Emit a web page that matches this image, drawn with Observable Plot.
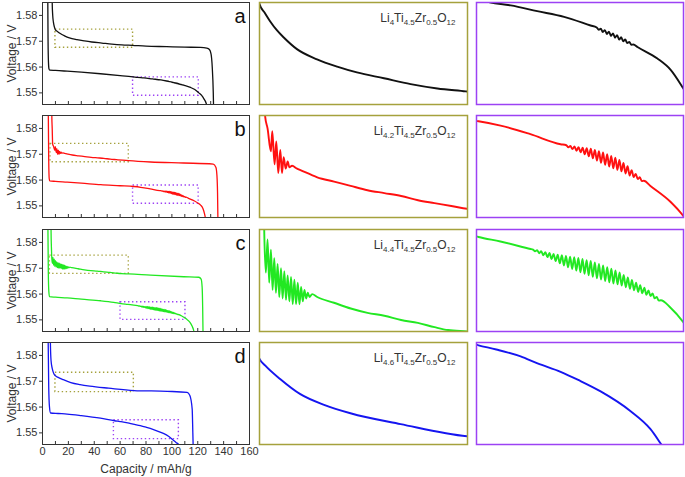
<!DOCTYPE html>
<html><head><meta charset="utf-8">
<script src="https://cdn.jsdelivr.net/npm/d3@7"></script>
<script src="https://cdn.jsdelivr.net/npm/@observablehq/plot@0.6"></script>
<style>
body{margin:0;background:#fff;}
#chart{position:relative;width:685px;height:477px;overflow:hidden;font-family:"Liberation Sans",Arial,sans-serif;}
#chart svg{position:absolute;overflow:visible;}
</style></head><body><div id="chart"></div>
<script>
// ---------- data: [capacity mAh/g, voltage V] ----------
const aCharge = [[7.2,1.600],[7.5,1.585],[7.9,1.580],[8.4,1.5775],[9.2,1.5755],[10,1.5744],[11.5,1.5738],[13.1,1.5732],[15,1.5726],[17,1.5721],[20.8,1.5713],[26.6,1.5706],[32.4,1.5701],[38.1,1.5697],[45.9,1.5693],[53.6,1.5689],[61.3,1.5686],[69.5,1.5684],[80,1.5681],[96,1.5679],[110,1.5677],[122,1.5676],[127,1.5673],[129,1.5668],[130.3,1.5650],[131.2,1.5600],[132,1.5500],[132.4,1.5400]];
const aDischarge = [[4.0,1.600],[4.1,1.585],[4.3,1.570],[4.6,1.5620],[5.0,1.5593],[5.6,1.5588],[10,1.5587],[19,1.5584],[30,1.5580],[44.8,1.5574],[60,1.5567],[70,1.5562],[73.5,1.5560],[78.4,1.5558],[84.9,1.5554],[91.5,1.5550],[98,1.5544],[99.5,1.55426],[100,1.55410],[100.5,1.55418],[101,1.55395],[101.5,1.55408],[102,1.55381],[102.5,1.55397],[103,1.55367],[103.5,1.55385],[104,1.55355],[104.5,1.55373],[105,1.55342],[105.5,1.55358],[106,1.55330],[106.5,1.55342],[107,1.55318],[107.5,1.55325],[108,1.55306],[108.5,1.55308],[109.5,1.5529],[114.4,1.5521],[117.7,1.5513],[120.8,1.5500],[123,1.5490],[125,1.5475],[126.5,1.5460],[127.5,1.5440]];

const bCharge = [[6.9,1.600],[7.2,1.585],[7.5,1.580],[7.86,1.5739],[8.54,1.5731],[9.52,1.5715],[9.91,1.5729],[10.59,1.5706],[11.08,1.5722],[11.66,1.5700],[12.25,1.5716],[12.74,1.5700],[13.23,1.5711],[13.81,1.5703],[14.40,1.5708],[14.88,1.5704],[15.67,1.5705],[17.13,1.5703],[18.1,1.5702],[23.0,1.5697],[27.9,1.5694],[32.7,1.5691],[37.6,1.5688],[42.5,1.5686],[47.4,1.5684],[52.3,1.5681],[57.1,1.5679],[62.0,1.5677],[66.7,1.5675],[83.5,1.5670],[109,1.5666],[132,1.5662],[134,1.5650],[134.8,1.5620],[135.3,1.5550],[135.6,1.5440]];
const bDischarge = [[4.3,1.600],[4.5,1.585],[4.8,1.568],[5.2,1.5605],[5.6,1.5597],[10,1.5595],[19,1.5592],[30,1.5588],[45,1.5582],[60,1.5578],[70.5,1.5575],[75.9,1.5572],[83.2,1.5566],[90.6,1.5559],[92,1.55583],[92.5,1.55568],[93,1.55578],[93.5,1.55556],[94,1.55574],[94.5,1.55545],[95,1.55569],[95.5,1.55533],[96,1.55566],[96.5,1.55520],[97,1.55562],[97.5,1.55506],[98,1.55559],[98.5,1.55492],[99,1.55550],[99.5,1.55476],[100,1.55541],[100.5,1.55460],[101,1.55532],[101.5,1.55446],[102,1.55520],[102.5,1.55434],[103,1.55508],[103.5,1.55422],[104,1.55496],[104.5,1.55412],[105,1.55481],[105.5,1.55401],[106,1.55460],[106.5,1.55386],[107,1.55437],[107.5,1.55372],[108,1.55410],[108.5,1.55361],[109,1.55384],[109.5,1.55347],[110,1.55360],[110.5,1.55333],[111,1.55336],[112.6,1.5530],[117.5,1.5519],[120.7,1.5509],[122.2,1.5503],[124,1.5490],[125.2,1.5470],[126,1.5450],[126.5,1.5430]];

const cCharge = [[6.4,1.600],[6.6,1.585],[6.9,1.578],[7.08,1.5749],[7.57,1.5719],[8.06,1.5742],[8.55,1.5712],[9.05,1.5735],[9.54,1.5707],[10.03,1.5729],[10.52,1.5705],[11.01,1.5725],[11.50,1.5702],[12.00,1.5722],[12.49,1.5701],[12.98,1.5720],[13.47,1.5700],[13.96,1.5717],[14.46,1.5699],[14.95,1.5716],[15.44,1.5697],[15.93,1.5714],[16.42,1.5697],[16.92,1.5712],[17.41,1.5697],[17.90,1.5709],[18.39,1.5699],[18.88,1.5707],[19.38,1.5701],[19.87,1.5705],[20.36,1.5702],[21.15,1.5704],[22.62,1.5702],[27.54,1.5698],[32.46,1.5694],[37.38,1.5691],[42.30,1.5689],[47.22,1.5686],[52.14,1.5684],[57.06,1.5681],[61.0,1.5679],[66.7,1.5678],[83.5,1.5673],[109.2,1.5667],[120.8,1.5665],[122.6,1.5658],[123.4,1.5626],[123.8,1.5550],[124.1,1.5440]];
const cDischarge = [[4.0,1.600],[4.2,1.585],[4.5,1.568],[4.9,1.561],[5.4,1.5590],[10,1.5588],[19,1.5585],[30,1.5580],[45,1.5574],[55,1.5568],[60.8,1.5563],[66.1,1.5560],[73.4,1.5555],[74,1.55546],[74.5,1.55535],[75,1.55542],[75.5,1.55522],[76,1.55535],[76.5,1.55508],[77,1.55529],[77.5,1.55496],[78,1.55523],[78.5,1.55483],[79,1.55517],[79.5,1.55469],[80,1.55512],[80.5,1.55454],[81,1.55508],[81.5,1.55440],[82,1.55504],[82.5,1.55428],[83,1.55499],[83.5,1.55417],[84,1.55495],[84.5,1.55406],[85,1.55490],[85.5,1.55395],[86,1.55484],[86.5,1.55384],[87,1.55476],[87.5,1.55375],[88,1.55470],[88.5,1.55365],[89,1.55460],[89.5,1.55355],[90,1.55451],[90.5,1.55346],[91,1.55441],[91.5,1.55337],[92,1.55429],[92.5,1.55328],[93,1.55418],[93.5,1.55320],[94,1.55407],[94.5,1.55314],[95,1.55394],[95.5,1.55306],[96,1.55377],[96.5,1.55295],[97,1.55360],[97.5,1.55285],[98,1.55344],[98.5,1.55275],[99,1.55326],[99.5,1.55264],[100,1.55309],[100.5,1.55254],[101,1.55292],[101.5,1.55245],[102,1.55273],[102.5,1.55236],[103,1.55253],[103.5,1.55221],[104,1.55230],[104.5,1.55206],[105,1.55208],[107.3,1.5516],[110.5,1.5506],[112,1.5500],[114,1.5490],[115.7,1.5475],[116.8,1.5460],[117.5,1.5440]];

const dCharge = [[5.9,1.600],[6.1,1.585],[6.6,1.578],[7.5,1.5750],[8.7,1.5730],[10,1.5721],[11.7,1.5716],[16.1,1.5706],[21.9,1.5695],[29,1.5687],[36.5,1.5681],[51.1,1.5673],[70.6,1.5664],[96.4,1.5661],[111.8,1.5657],[113.9,1.5645],[115.7,1.5592],[116.2,1.5500],[116.5,1.5440]];
const dDischarge = [[4.2,1.600],[4.4,1.585],[4.8,1.568],[5.4,1.5600],[6.2,1.5577],[12,1.5575],[19,1.5573],[30,1.5567],[44.8,1.5557],[55.7,1.5547],[60,1.5544],[65.9,1.5539],[70,1.5534],[75.6,1.5528],[80,1.5522],[85.3,1.5514],[92.5,1.5500],[97.4,1.5487],[100.5,1.5474],[103,1.5464],[106,1.5452],[108,1.5440]];

// zoom boxes: [cap from, cap to, V low, V high]
const aOliveBox = [10, 70, 1.5675, 1.5745];
const aPurpleBox = [70, 120.8, 1.5489, 1.5560];
const bOliveBox = [6.2, 66.7, 1.5669, 1.5740];
const bPurpleBox = [70, 120.7, 1.5508, 1.5579];
const cOliveBox = [5.7, 66.7, 1.5678, 1.5749];
const cPurpleBox = [60.3, 110.5, 1.5500, 1.5568];
const dOliveBox = [10, 70.6, 1.5658, 1.5733];
const dPurpleBox = [55.2, 105.4, 1.5476, 1.5549];

const panelLetters = ["a", "b", "c", "d"];
const aFormula = ["Li","4","Ti","4.5","Zr","0.5","O","12"];
const bFormula = ["Li","4.2","Ti","4.5","Zr","0.5","O","12"];
const cFormula = ["Li","4.4","Ti","4.5","Zr","0.5","O","12"];
const dFormula = ["Li","4.6","Ti","4.5","Zr","0.5","O","12"];

const xDomain = [0, 160];
const yDomain = [1.5455, 1.585];
const yTicks = [1.55, 1.56, 1.57, 1.58];
const xLabelTicks = [0, 20, 40, 60, 80, 100, 120, 140, 160];
const xMinorTicks = [10, 20, 30, 40, 50, 60, 70, 80, 90, 100, 110, 120, 130, 140, 150];
const yLabel = "Voltage / V";
const xLabel = "Capacity / mAh/g";

// ---------- styles / layout ----------
const OLIVE = "#a5a13c", PURPLE = "#9c42f4";
const lineColors = ["#111111", "#ff1010", "#22e822", "#1515f0"];
const panelTops = [2, 115, 229, 342];
const frameH = 102;
const FONT = '"Liberation Sans", Arial, sans-serif';

const panels = [
  {charge: aCharge, discharge: aDischarge, olive: aOliveBox, purple: aPurpleBox, formula: aFormula},
  {charge: bCharge, discharge: bDischarge, olive: bOliveBox, purple: bPurpleBox, formula: bFormula},
  {charge: cCharge, discharge: cDischarge, olive: cOliveBox, purple: cPurpleBox, formula: cFormula},
  {charge: dCharge, discharge: dDischarge, olive: dOliveBox, purple: dPurpleBox, formula: dFormula}
];

const chart = document.getElementById("chart");
const X = d => d[0], Y = d => d[1];
const baseStyle = {background: "none", color: "#333", fontFamily: FONT, overflow: "visible"};

function place(svg, left, top) {
  svg.style.left = left + "px";
  svg.style.top = top + "px";
  chart.appendChild(svg);
}

function boxMark(box, color) {
  return Plot.rect([box], {x1: b => b[0], x2: b => b[1], y1: b => b[2], y2: b => b[3],
    fill: "none", stroke: color, strokeWidth: 1.4, strokeDasharray: "1.4,2.6"});
}

function mainPlot(p, i) {
  const last = i === panels.length - 1;
  const mb = last ? 34 : 2;
  const marks = [
    boxMark(p.olive, OLIVE),
    boxMark(p.purple, PURPLE),
    Plot.line(p.charge, {x: X, y: Y, stroke: lineColors[i], strokeWidth: 1.3, curve: "monotone-x", clip: true}),
    Plot.line(p.discharge, {x: X, y: Y, stroke: lineColors[i], strokeWidth: 1.3, curve: "monotone-x", clip: true}),
    Plot.tickX(xMinorTicks, {x: d => d, insetTop: frameH - 3, stroke: "#333"}),
    Plot.frame({stroke: "#333"}),
    Plot.axisY(yTicks, {tickSize: 3, tickPadding: 2, tickFormat: d3.format(".2f"), fontSize: 11, label: null}),
    Plot.text([panelLetters[i]], {frameAnchor: "top-right", dx: -4, dy: 20, lineAnchor: "bottom", fontSize: 20, fill: "#111"}),
    Plot.text([yLabel], {frameAnchor: "left", textAnchor: "middle", rotate: -90, dx: -30, fontSize: 12, fill: "#333"})
  ];
  if (last) {
    marks.push(Plot.axisX(xLabelTicks, {tickSize: 0, tickPadding: 3, fontSize: 11, label: null}));
    marks.push(Plot.text([xLabel], {frameAnchor: "bottom", dy: 25, lineAnchor: "middle", fontSize: 12, fill: "#333"}));
  }
  return Plot.plot({
    width: 252, height: frameH + 2 + mb,
    marginLeft: 42, marginRight: 3, marginTop: 2, marginBottom: mb,
    x: {domain: xDomain, axis: last ? undefined : null},
    y: {domain: yDomain},
    style: baseStyle,
    marks
  });
}

function insetPlot(p, i, box, curve, frameColor, withFormula) {
  const w = frameColor === OLIVE ? 208 : 207;
  const marks = [
    Plot.line(curve, {x: X, y: Y, stroke: lineColors[i], strokeWidth: 1.9, curve: "monotone-x", clip: true}),
    Plot.frame({stroke: frameColor, strokeWidth: 1.5})
  ];
  if (withFormula) {
    marks.push(Plot.text([p.formula.join("")], {frameAnchor: "top-right", dx: -12, dy: 19, lineAnchor: "bottom", fontSize: 12, fill: "#333"}));
  }
  const svg = Plot.plot({
    width: w + 2, height: frameH + 2, margin: 1,
    x: {domain: [box[0], box[1]], axis: null},
    y: {domain: [box[2], box[3]], axis: null},
    style: baseStyle,
    marks
  });
  if (withFormula) {
    const plain = p.formula.join("");
    const t = [...svg.querySelectorAll("text")].find(e => e.textContent === plain);
    if (t) {
      t.textContent = "";
      const ns = "http://www.w3.org/2000/svg";
      let shifted = false;
      p.formula.forEach((s, k) => {
        const sp = document.createElementNS(ns, "tspan");
        sp.textContent = s;
        if (k % 2 === 1) { sp.setAttribute("font-size", "8"); sp.setAttribute("dy", "3.5"); shifted = true; }
        else if (shifted) { sp.setAttribute("dy", "-3.5"); shifted = false; }
        t.appendChild(sp);
      });
    }
  }
  return svg;
}

panels.forEach((p, i) => {
  const top = panelTops[i];
  place(mainPlot(p, i), 0, top - 2);
  place(insetPlot(p, i, p.olive, p.charge, OLIVE, true), 258, top - 1);
  place(insetPlot(p, i, p.purple, p.discharge, PURPLE, false), 475, top - 1);
});
</script></body></html>
